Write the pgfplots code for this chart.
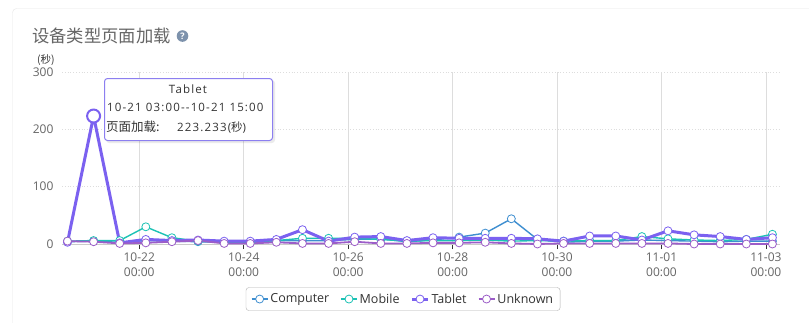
\documentclass[border=0pt]{standalone}
\usepackage{fontspec}
\setmainfont{Open Sans}
\newfontfamily\cjk{Noto Sans CJK SC}
\newfontfamily\tipfont{Open Sans}[LetterSpace=10]
\usepackage{pgfplots}
\pgfplotsset{compat=1.18}
\usepackage{pgfplotstable}

\definecolor{cComp}{HTML}{3E8ED0}
\definecolor{cMob}{HTML}{1CC2B5}
\definecolor{cTab}{HTML}{7B61F0}
\definecolor{cUnk}{HTML}{9C5DC8}
\definecolor{gridc}{HTML}{DDDDDD}
\definecolor{txt}{HTML}{666666}
\definecolor{dark}{HTML}{333333}
\definecolor{cardc}{HTML}{E6E6E6}
\definecolor{qc}{HTML}{7D92AC}
\definecolor{tipc}{HTML}{8C7FF0}

\pgfplotstableread{
x      C   M   T        U
0.625  4   5   3        5
1.125  5   6   223.233  4
1.625  3   6   2        1
2.125  6   30  8        2
2.625  5   11  6        4
3.125  4   5   7        6
3.625  3   3   5        1
4.125  3   3   5        1
4.625  6   6   8        3
5.125  6   10  25       1
5.625  6   10  5        1
6.125  8   10  12       4
6.625  9   8   13       1
7.125  4   5   6        1
7.625  7   6   11       2
8.125  12  6   10       2
8.625  19  7   10       3
9.125  44  5   10       1
9.625  8   6   9        0
10.125 3   5   5        1
10.625 5   6   14       1
11.125 5   6   14       1
11.625 7   13  7        1
12.125 6   9   23       1
12.625 5   7   16       0
13.125 4   6   13       0
13.625 5   8   8        0
14.125 5   17  11       0
}\data

\begin{document}
\begin{tikzpicture}[x=1pt,y=1pt]
\useasboundingbox (0,0) rectangle (809,-322);
\clip (0,0) rectangle (809,-322);
\fill[white] (0,0) rectangle (809,-322);
\draw[cardc, rounded corners=4pt] (12.5,-8.5) rectangle (830,-340);
\node[anchor=base west, inner sep=0, font=\cjk\fontsize{17.3}{17.3}\selectfont, text=txt] at (32,-42) {设备类型页面加载};
\fill[qc] (182.5,-36) circle (5.8);
\node[inner sep=0, text=white, font=\bfseries\fontsize{9}{9}\selectfont] at (182.5,-36) {?};
\node[anchor=base west, inner sep=0, font=\cjk\fontsize{10.5}{10.5}\selectfont, text=dark] at (37,-63) {(秒)};

\begin{axis}[
  at={(62pt,-244pt)}, anchor=south west,
  scale only axis, width=718pt, height=172pt,
  xmin=0.52, xmax=14.27, ymin=0, ymax=300,
  clip=false,
  axis lines*=left,
  y axis line style={draw=none},
  x axis line style={draw=gridc!80!gray, line width=0.8pt},
  ytick={0,100,200,300},
  xtick={2,4,6,8,10,12,14},
  xticklabels={{10-22\\00:00},{10-24\\00:00},{10-26\\00:00},{10-28\\00:00},{10-30\\00:00},{11-01\\00:00},{11-03\\00:00}},
  xticklabel style={align=center, font=\fontsize{12}{15}\selectfont, text=txt},
  yticklabel style={font=\fontsize{12}{12}\selectfont, text=txt},
  /pgf/number format/assume math mode=true,
  tick align=outside,
  major tick length=5pt,
  xtick style={draw=dark, line width=0.8pt},
  ytick style={draw=none},
  xmajorgrids, ymajorgrids,
  x grid style={gridc, line width=0.8pt},
  y grid style={gridc, line width=0.8pt, dotted},
  legend columns=4,
  legend style={at={(0.475,-0.32)}, anchor=center, draw=gray!60, rounded corners=3pt,
    font=\fontsize{12.5}{12.5}\selectfont, text=dark, inner xsep=5pt, inner ysep=4pt,
    /tikz/every even column/.append style={column sep=9pt}},
  legend image code/.code={\draw[mark repeat=2, mark phase=2] plot coordinates {(0pt,0pt) (8pt,0pt) (16pt,0pt)};},
]
\addplot[cComp, line width=1.4pt, mark=*, mark size=4pt, mark options={fill=white, draw=cComp, line width=0.8pt}] table[x=x,y=C] {\data};
\addlegendentry{Computer}
\addplot[cMob, line width=1.4pt, mark=*, mark size=4pt, mark options={fill=white, draw=cMob, line width=0.8pt}] table[x=x,y=M] {\data};
\addlegendentry{Mobile}
\addplot[cTab, line width=3pt, mark=*, mark size=4pt, mark options={fill=white, draw=cTab, line width=0.8pt}] table[x=x,y=T] {\data};
\addlegendentry{Tablet}
\addplot[cUnk, line width=1.8pt, mark=*, mark size=4pt, mark options={fill=white, draw=cUnk, line width=0.8pt}] table[x=x,y=U] {\data};
\addlegendentry{Unknown}
\addplot[forget plot, only marks, mark=*, mark size=6.5pt, mark options={fill=white, draw=cTab, line width=2pt}] coordinates {(1.125,223.233)};
\end{axis}

% tooltip
\fill[black, opacity=0.08, rounded corners=3pt] (106,-80) rectangle (275,-143);
\draw[rounded corners=3pt, draw=tipc, fill=white, line width=1pt] (104.5,-78.5) rectangle (272.5,-140.5);
\node[inner sep=0, font=\tipfont\fontsize{11.5}{11.5}\selectfont, text=dark] at (188,-89) {Tablet};
\node[anchor=base west, inner sep=0, font=\tipfont\fontsize{11.5}{11.5}\selectfont, text=dark] at (107,-111) {10-21 03:00-{}-10-21 15:00};
\node[anchor=base west, inner sep=0, font=\cjk\fontsize{12.5}{12.5}\selectfont, text=dark] at (106,-131) {页面加载:};
\node[anchor=base west, inner sep=0, font=\tipfont\fontsize{11.5}{11.5}\selectfont, text=dark] at (177,-131) {223.233({\cjk 秒})};
\end{tikzpicture}
\end{document}
